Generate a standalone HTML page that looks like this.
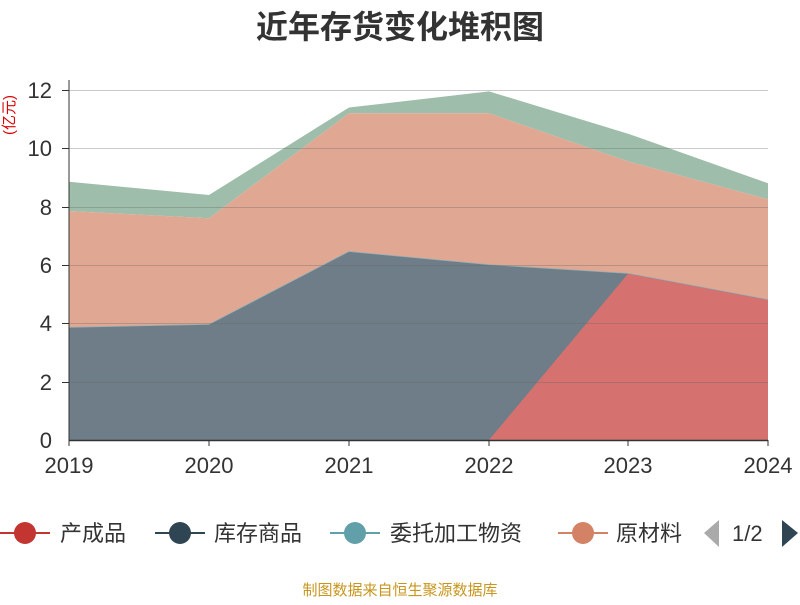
<!DOCTYPE html>
<html><head><meta charset="utf-8"><style>
body{margin:0;background:#fff;width:800px;height:600px;overflow:hidden;font-family:"Liberation Sans","Noto Sans CJK SC",sans-serif}
</style></head><body>
<svg width="800" height="600" xmlns="http://www.w3.org/2000/svg" font-family="Liberation Sans, Noto Sans CJK SC, sans-serif">
<text x="400" y="38" text-anchor="middle" font-size="32" font-weight="bold" fill="#333">近年存货变化堆积图</text>
<text x="14" y="115" font-size="15" fill="#d00" transform="rotate(-90 14 115)" text-anchor="middle">(亿元)</text>
<polygon points="69,181.8 209,195 349,107.5 489,91.4 628,133.7 768,183.3 768,199.3 628,161.4 489,113.3 349,113.3 209,218.3 69,211" fill="#9fbdab"/>
<polygon points="69,211 209,218.3 349,113.3 489,113.3 628,161.4 768,199.3 768,300 628,273.7 489,265 349,251.9 209,324.8 69,327.7" fill="#e0a892"/>
<polyline points="69,327.7 209,324.8 349,251.9 489,265 628,273.7 768,300" fill="none" stroke="#8fb0b8" stroke-width="1.5"/>
<polygon points="69,327.7 209,324.8 349,251.9 489,265 628,273.7 768,300 768,440 69,440" fill="#6e7d88"/>
<polygon points="489,440 628,273.7 768,300 768,440" fill="#d5726f"/>
<g stroke="#666" stroke-opacity="0.35" stroke-width="1">
<line x1="69" y1="90.5" x2="768" y2="90.5"/><line x1="69" y1="148.5" x2="768" y2="148.5"/>
<line x1="69" y1="207.5" x2="768" y2="207.5"/><line x1="69" y1="265.5" x2="768" y2="265.5"/>
<line x1="69" y1="323.5" x2="768" y2="323.5"/><line x1="69" y1="382.5" x2="768" y2="382.5"/>
</g>
<line x1="69" y1="440.5" x2="768" y2="440.5" stroke="#333" stroke-width="1.5"/>
<g stroke="#333"><line x1="69" y1="440" x2="69" y2="446"/><line x1="209" y1="440" x2="209" y2="446"/><line x1="349" y1="440" x2="349" y2="446"/><line x1="489" y1="440" x2="489" y2="446"/><line x1="628" y1="440" x2="628" y2="446"/><line x1="768" y1="440" x2="768" y2="446"/>
<line x1="62" y1="90.5" x2="69" y2="90.5"/><line x1="62" y1="148.5" x2="69" y2="148.5"/><line x1="62" y1="207.5" x2="69" y2="207.5"/><line x1="62" y1="265.5" x2="69" y2="265.5"/><line x1="62" y1="323.5" x2="69" y2="323.5"/><line x1="62" y1="382.5" x2="69" y2="382.5"/><line x1="69" y1="80" x2="69" y2="440"/></g>
<g font-size="22" fill="#333" text-anchor="end">
<text x="52" y="98">12</text><text x="52" y="156">10</text><text x="52" y="215">8</text><text x="52" y="273">6</text><text x="52" y="331">4</text><text x="52" y="390">2</text><text x="52" y="448">0</text></g>
<g font-size="22" fill="#333" text-anchor="middle">
<text x="69" y="473">2019</text><text x="209" y="473">2020</text><text x="349" y="473">2021</text><text x="489" y="473">2022</text><text x="628" y="473">2023</text><text x="768" y="473">2024</text></g>
<g font-size="22" fill="#333">
<line x1="0" y1="533" x2="50" y2="533" stroke="#c23531" stroke-width="2"/><circle cx="25" cy="533" r="11" fill="#c23531"/><text x="60" y="541">产成品</text>
<line x1="155" y1="533" x2="205" y2="533" stroke="#2f4554" stroke-width="2"/><circle cx="180" cy="533" r="11" fill="#2f4554"/><text x="214" y="541">库存商品</text>
<line x1="330" y1="533" x2="380" y2="533" stroke="#61a0a8" stroke-width="2"/><circle cx="355" cy="533" r="11" fill="#61a0a8"/><text x="390" y="541">委托加工物资</text>
<line x1="558" y1="533" x2="608" y2="533" stroke="#d48265" stroke-width="2"/><circle cx="583" cy="533" r="11" fill="#d48265"/><text x="616" y="541">原材料</text>
<rect x="683" y="515" width="16" height="35" fill="#fff"/>
<polygon points="719,520 719,547 704,533" fill="#aaa"/><text x="732" y="541">1/2</text><polygon points="782,520 782,547 798,533" fill="#2f4554"/>
</g>
<text x="400" y="595" text-anchor="middle" font-size="15" fill="#c8961e">制图数据来自恒生聚源数据库</text>
</svg>
</body></html>
